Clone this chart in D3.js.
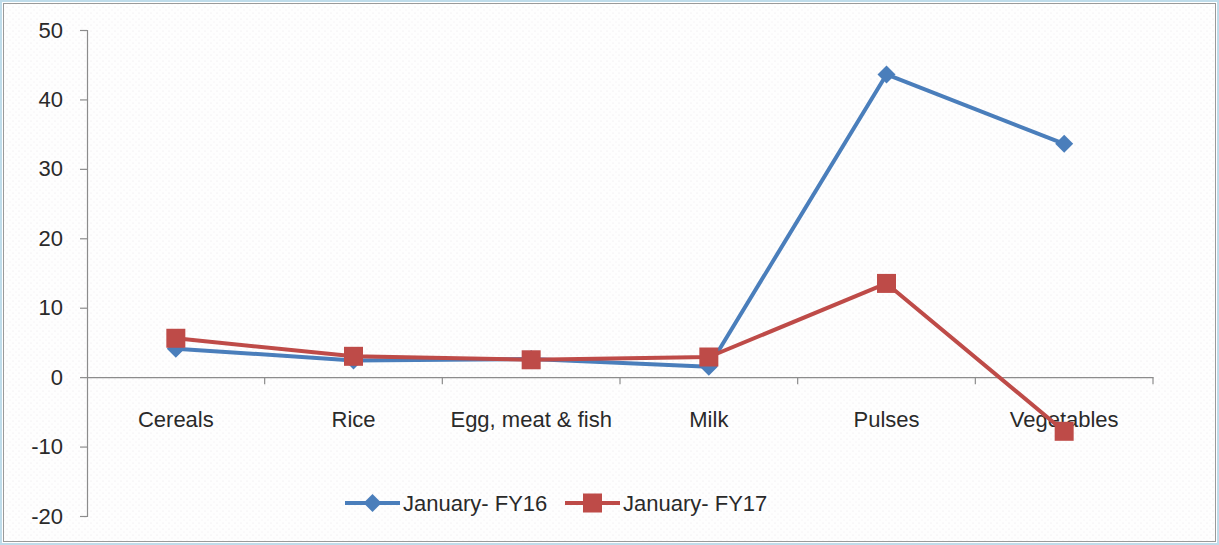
<!DOCTYPE html>
<html><head><meta charset="utf-8">
<script src="https://cdn.jsdelivr.net/npm/d3@7"></script>
<style>html,body{margin:0;padding:0;background:#fff;}svg{display:block;}</style>
</head><body>
<svg id="c" width="1219" height="545"></svg>
<script>
const categories = ["Cereals","Rice","Egg, meat & fish","Milk","Pulses","Vegetables"];
const fy16 = [4.1, 2.4, 2.6, 1.5, 43.6, 33.6];
const fy17 = [5.6, 3.0, 2.5, 2.9, 13.5, -7.8];
const seriesNames = ["January- FY16","January- FY17"];
const yTicks = [-20,-10,0,10,20,30,40,50];

const W = 1219, H = 545;
const svg = d3.select("#c");
const font = "'Liberation Sans', Arial, sans-serif";
const fs = 22;
const txtCol = "#2a2a2a";

// background with faint dot texture
const defs = svg.append("defs");
const pat = defs.append("pattern").attr("id","dots").attr("width",6).attr("height",6).attr("patternUnits","userSpaceOnUse");
pat.append("rect").attr("width",6).attr("height",6).attr("fill","#fefefe");
pat.append("circle").attr("cx",1).attr("cy",1).attr("r",0.5).attr("fill","#e6e2e6");
pat.append("circle").attr("cx",4).attr("cy",4).attr("r",0.5).attr("fill","#ece8ec");

svg.append("rect").attr("x",0).attr("y",0).attr("width",W).attr("height",H).attr("fill","#ffffff");
svg.append("rect").attr("x",1).attr("y",1).attr("width",W-2).attr("height",H-2).attr("fill","none").attr("stroke","#bfdcea").attr("stroke-width",2);
svg.append("rect").attr("x",3.5).attr("y",3.5).attr("width",W-7).attr("height",H-7).attr("fill","url(#dots)").attr("stroke","#9a9a9a").attr("stroke-width",1);

const left = 87, right = 1153;
const y = d3.scaleLinear().domain([-20,50]).range([516,30]);
const x = d3.scaleBand().domain(categories).range([left,right]).padding(0);
const cx = d => x(d) + x.bandwidth()/2;

// y axis
const yAxis = d3.axisLeft(y).tickValues(yTicks).tickSize(7).tickPadding(17).tickFormat(d => String(d));
const gy = svg.append("g").attr("transform",`translate(${left},0)`).call(yAxis);
gy.select(".domain").attr("stroke","#8c8c8c").attr("stroke-width",1.2);
gy.selectAll(".tick line").attr("stroke","#8c8c8c").attr("stroke-width",1.2);
gy.selectAll(".tick text").attr("font-family",font).attr("font-size",fs).attr("fill",txtCol);

// x axis at zero
const xAxis = d3.axisBottom(x).tickSize(0).tickPadding(34);
const gx = svg.append("g").attr("transform",`translate(0,${y(0)})`).call(xAxis);
gx.select(".domain").attr("stroke","#8c8c8c").attr("stroke-width",1.2);
gx.selectAll(".tick text").attr("font-family",font).attr("font-size",fs).attr("fill",txtCol);
// category boundary tick marks
const bounds = categories.map(c => x(c)).concat([right]).slice(1);
gx.selectAll(".bt").data(bounds).enter().append("line")
  .attr("x1",d=>d).attr("x2",d=>d).attr("y1",0).attr("y2",7)
  .attr("stroke","#8c8c8c").attr("stroke-width",1.2);

const blue = "#4a7ebb", red = "#be4b48";
const line = d3.line().x((d,i)=>cx(categories[i])).y(d=>y(d));

function marker(g, px, py, color, type){
  if(type==="diamond"){
    g.append("path").attr("d",`M${px},${py-9}L${px+9},${py}L${px},${py+9}L${px-9},${py}Z`).attr("fill",color);
  } else {
    g.append("rect").attr("x",px-9.5).attr("y",py-9.5).attr("width",19).attr("height",19).attr("fill",color);
  }
}

function drawSeries(vals, color, type){
  svg.append("path").datum(vals).attr("d",line).attr("fill","none")
    .attr("stroke",color).attr("stroke-width",4).attr("stroke-linejoin","round");
  const g = svg.append("g");
  vals.forEach((v,i)=> marker(g, cx(categories[i]), y(v), color, type));
}
drawSeries(fy16, blue, "diamond");
drawSeries(fy17, red, "square");

// legend
const leg = [{name:seriesNames[0],color:blue,marker:"diamond",x:345},{name:seriesNames[1],color:red,marker:"square",x:565}];
const ly = 503;
leg.forEach(l=>{
  svg.append("line").attr("x1",l.x).attr("x2",l.x+55).attr("y1",ly).attr("y2",ly).attr("stroke",l.color).attr("stroke-width",4);
  marker(svg, l.x+27.5, ly, l.color, l.marker);
  svg.append("text").attr("x",l.x+58).attr("y",ly).attr("dy","0.36em").attr("font-family",font).attr("font-size",fs).attr("fill",txtCol).text(l.name);
});
</script>
</body></html>
